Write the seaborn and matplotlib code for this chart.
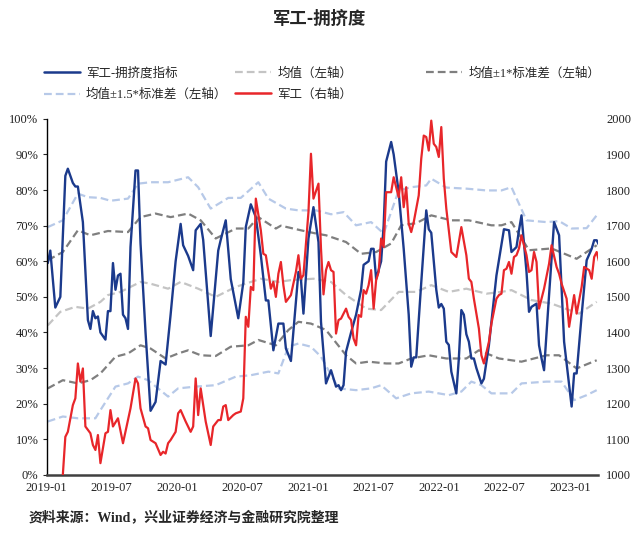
import numpy as np
import pandas as pd

import matplotlib
matplotlib.use('Agg')

from matplotlib import pyplot as plt
from matplotlib.lines import Line2D
import matplotlib.dates as mdates
import seaborn as sns

# ---- data (weeks counted from the first weekly observation) ----
start_date = pd.Timestamp('2019-01-04')

crowd_wk = [0, 1, 3, 5, 7, 8, 10, 11, 12, 14, 16, 17, 18, 19, 20, 21, 23, 24, 25, 26,
            27, 28, 29, 30, 31, 32, 33, 35, 36, 37, 39, 41, 43, 45, 47, 49, 51, 53, 54, 56,
            58, 59, 61, 62, 65, 66, 68, 69, 71, 73, 76, 78, 79, 81, 83, 85, 87, 88, 90, 92,
            94, 95, 97, 100, 101, 102, 104, 106, 108, 109, 111, 113, 115, 116, 117, 118, 119, 121, 123, 125,
            126, 128, 129, 130, 131, 133, 134, 135, 137, 138, 140, 142, 144, 145, 146, 147, 149, 151, 152, 153,
            155, 156, 157, 158, 159, 160, 161, 163, 164, 165, 166, 167, 168, 169, 170, 171, 173, 174, 176, 177,
            179, 180, 182, 184, 185, 187, 188, 189, 191, 192, 193, 195, 196, 197, 198, 200, 202, 204, 205, 206,
            209, 210, 211, 213, 215, 217, 218, 219, 220]
crowd_val = [59.5, 63, 47, 50, 84, 86, 82, 81, 81, 71, 43.5, 41, 46, 44, 44.5, 40, 38, 46, 46, 59.5,
             52, 56, 56.5, 45, 44, 41, 64, 85.5, 85.5, 65, 40, 18, 20.5, 32, 31, 45, 60, 70.5, 64.5, 61.5,
             57.5, 68.7, 70.5, 66, 39, 47, 63, 66, 71.5, 55, 44, 54, 69.6, 76, 72.4, 61.7, 49, 49, 35, 42.5,
             42.5, 35.5, 32, 57, 55, 45.3, 66.4, 75.2, 65.4, 43, 25.7, 29.4, 24.8, 25.2, 23.8, 25.2, 34.6, 40, 45, 52,
             59, 60, 63.5, 63.5, 55, 60, 70, 88, 93.5, 90, 79.4, 63.5, 45, 30.4, 33, 33, 54, 74.3, 69, 68,
             52, 47, 48, 46.7, 37.4, 36.5, 29, 22.9, 32.7, 46.3, 45, 39.5, 37.4, 32.7, 32.7, 30, 25.7, 27, 36.4, 43,
             56, 60.3, 69, 68.7, 62.6, 64, 68.7, 72.9, 57, 45.8, 47.2, 48.1, 36.4, 32.7, 29.4, 50.5, 71, 67.3, 52.3, 37.4,
             19.2, 28.5, 28.5, 44.9, 60.3, 63.5, 65.9, 65.9, 64.5]

index_wk = [6, 7, 8, 10, 11, 12, 13, 14, 15, 17, 18, 19, 20, 21, 23, 24, 25, 26, 28, 30,
            33, 35, 36, 37, 39, 40, 41, 43, 45, 46, 47, 48, 49, 51, 52, 53, 55, 57, 58, 59,
            60, 61, 63, 65, 66, 68, 69, 70, 71, 72, 74, 75, 77, 78, 79, 80, 81, 82, 83, 85,
            86, 87, 89, 90, 91, 92, 93, 94, 95, 97, 99, 100, 101, 102, 104, 105, 106, 108, 109, 110,
            111, 112, 113, 114, 115, 116, 117, 119, 120, 121, 122, 123, 124, 125, 126, 127, 128, 129, 130, 131,
            132, 133, 134, 135, 137, 138, 140, 141, 142, 143, 144, 145, 146, 148, 149, 150, 151, 152, 153, 154,
            155, 156, 157, 158, 159, 161, 163, 165, 167, 168, 169, 170, 172, 173, 174, 176, 177, 179, 180, 181,
            182, 183, 184, 185, 186, 187, 188, 189, 191, 192, 193, 194, 195, 196, 198, 200, 201, 203, 204, 205,
            207, 208, 210, 211, 213, 214, 216, 217, 218, 219, 220]
index_val = [1000, 1107, 1121, 1196, 1215, 1313, 1262, 1299, 1136, 1117, 1084, 1070, 1112, 1033, 1117, 1121, 1182, 1136, 1159, 1089,
             1187, 1271, 1257, 1187, 1136, 1131, 1098, 1089, 1056, 1065, 1060, 1089, 1098, 1121, 1173, 1182, 1150, 1121, 1136, 1271,
             1168, 1243, 1150, 1084, 1136, 1154, 1154, 1192, 1196, 1154, 1168, 1173, 1178, 1215, 1444, 1416, 1528, 1519, 1776, 1687,
             1621, 1617, 1523, 1542, 1500, 1565, 1598, 1533, 1486, 1505, 1570, 1617, 1551, 1561, 1738, 1902, 1776, 1818, 1636, 1507,
             1575, 1598, 1575, 1570, 1397, 1435, 1439, 1467, 1444, 1435, 1383, 1364, 1449, 1444, 1519, 1509, 1533, 1575, 1467, 1547,
             1570, 1664, 1640, 1794, 1794, 1836, 1780, 1836, 1752, 1808, 1706, 1682, 1710, 1785, 1888, 1953, 1949, 1911, 1995, 1930,
             1921, 1893, 1977, 1832, 1748, 1626, 1612, 1696, 1617, 1551, 1542, 1495, 1411, 1336, 1313, 1374, 1425, 1495, 1505, 1509,
             1575, 1579, 1598, 1565, 1612, 1617, 1636, 1673, 1617, 1570, 1575, 1626, 1598, 1467, 1523, 1593, 1645, 1584, 1565, 1537,
             1495, 1416, 1505, 1453, 1528, 1584, 1575, 1551, 1612, 1626, 1598]

mean_wk = [0, 5, 11, 16, 21, 24, 29, 37, 41, 48, 53, 60, 67, 75, 85, 92, 97, 106, 113, 119,
           127, 133, 140, 147, 153, 160, 167, 175, 181, 185, 193, 201, 212, 219]
mean_val = [42, 45.8, 47.2, 46.7, 48.6, 50.5, 51.4, 54.2, 53.7, 52.3, 54.2, 52.3, 50, 52.8, 55.1, 54.2, 54.7, 55.1, 54.2, 50.5,
            46.7, 46.3, 51.4, 51.4, 53.3, 51.4, 52.3, 50.9, 51.4, 51.9, 49.1, 48.1, 45.3, 48.6]

up1_wk = [0, 6, 12, 17, 24, 32, 37, 43, 49, 56, 61, 67, 75, 80, 84, 91, 93, 101, 107, 111,
          119, 125, 131, 137, 141, 147, 153, 161, 168, 177, 181, 185, 192, 201, 211, 219]
up1_val = [60.3, 62.6, 68.7, 67.3, 68.5, 68.2, 72.4, 73.4, 72.4, 73.4, 71.5, 66.4, 69.2, 69.2, 72.4, 69.2, 70, 68.7, 67.8, 67.3,
           65.4, 62.1, 62.6, 65, 70.1, 70.7, 72.9, 71.5, 71.5, 70.1, 70.1, 71, 63.1, 63.6, 60.7, 64.5]

dn1_wk = [0, 6, 12, 17, 21, 27, 32, 37, 41, 47, 52, 56, 61, 67, 73, 80, 84, 91, 96, 100,
          105, 111, 119, 123, 128, 135, 140, 145, 152, 159, 167, 172, 180, 189, 199, 204, 211, 219]
dn1_val = [24.3, 26.6, 25.7, 26.6, 28.5, 33.2, 34.1, 36.4, 35.5, 32.7, 34.1, 35, 33.6, 33.4, 36, 36.4, 37.9, 36.4, 40.7, 43,
           42.5, 40.7, 33.6, 31.3, 31.8, 31.3, 31.3, 32.7, 33.6, 32.7, 32.7, 35, 32.7, 31.8, 33.6, 33.6, 29.9, 32.2]

up15_wk = [0, 6, 12, 16, 21, 25, 32, 36, 41, 48, 56, 60, 65, 72, 77, 84, 88, 95, 100, 107,
           113, 118, 123, 129, 134, 140, 145, 151, 153, 159, 167, 175, 181, 185, 191, 199, 204, 209, 215, 219]
up15_val = [69.6, 71.5, 79, 78, 77.8, 77, 77.6, 81.8, 82.2, 82.2, 83.6, 80.8, 74.8, 77.8, 77.8, 82.2, 77.6, 74.8, 74.3, 74.3,
            73.2, 73.8, 70.1, 71, 67.8, 79.9, 80.8, 81.3, 83.2, 80.7, 80.4, 79.9, 79.9, 80.8, 71.5, 71, 71.3, 69.2, 69.3, 72.9]

dn15_wk = [0, 6, 12, 19, 21, 27, 32, 36, 40, 48, 52, 59, 67, 75, 81, 88, 92, 96, 100, 105,
           109, 116, 123, 129, 133, 139, 145, 152, 160, 165, 169, 173, 177, 185, 189, 199, 205, 210, 215, 219]
dn15_val = [15, 16.4, 15.9, 15.9, 18.2, 24.8, 25.7, 27.6, 26.6, 22, 24.3, 24.8, 25.2, 27.6, 28, 29, 28.5, 36, 36.9, 36,
            33.2, 24.3, 23.8, 24.3, 25.2, 21.5, 22.9, 23.4, 22.4, 23.4, 26.2, 25.2, 22.9, 22.9, 25.7, 26.2, 26.2, 21, 22.4, 23.8]

x_ticks = ['2019-01', '2019-07', '2020-01', '2020-07', '2021-01', '2021-07', '2022-01', '2022-07', '2023-01']


def to_frame(weeks, values):
    dates = start_date + pd.to_timedelta(np.array(weeks) * 7, unit='D')
    return pd.DataFrame({'date': dates, 'value': values})


sns.set_style('white')
plt.rcParams['font.family'] = ['Liberation Serif', 'Noto Sans CJK SC', 'DejaVu Sans']
plt.rcParams['axes.unicode_minus'] = False
cjk = ['Noto Sans CJK SC', 'DejaVu Sans']

fig = plt.figure(figsize=(6.4, 5.33), dpi=100)
ax = fig.add_axes([0.073, 0.109, 0.861, 0.668])
ax2 = ax.twinx()

c_blue = '#1b3a8c'
c_red = '#e8262a'
c_mean = '#c4c4c4'
c_std1 = '#7f7f7f'
c_std15 = '#b7c9e8'
dash = (3.5, 1.8)

band_specs = [
    (up15_wk, up15_val, c_std15), (dn15_wk, dn15_val, c_std15),
    (up1_wk, up1_val, c_std1), (dn1_wk, dn1_val, c_std1),
    (mean_wk, mean_val, c_mean),
]
for wk, val, col in band_specs:
    df = to_frame(wk, val)
    sns.lineplot(data=df, x='date', y='value', ax=ax, color=col, linewidth=1.6)
    ax.lines[-1].set_dashes(dash)

sns.lineplot(data=to_frame(crowd_wk, crowd_val), x='date', y='value', ax=ax,
             color=c_blue, linewidth=1.7)
sns.lineplot(data=to_frame(index_wk, index_val), x='date', y='value', ax=ax2,
             color=c_red, linewidth=1.6)

# axes limits / ticks
xmin, xmax = pd.Timestamp('2019-01-01'), pd.Timestamp('2023-03-20')
ax.set_xlim(xmin, xmax)
ax.set_ylim(0, 100)
ax2.set_ylim(1000, 2000)
ax.set_xticks([pd.Timestamp(t + '-01') for t in x_ticks])
ax.xaxis.set_major_formatter(mdates.DateFormatter('%Y-%m'))
ax.set_yticks(np.arange(0, 101, 10))
ax.set_yticklabels(['%d%%' % v for v in range(0, 101, 10)])
ax2.set_yticks(np.arange(1000, 2001, 100))

ax.set_xlabel('')
ax.set_ylabel('')
ax2.set_xlabel('')
ax2.set_ylabel('')

for a in (ax, ax2):
    for s in a.spines.values():
        s.set_visible(False)
ax.spines['left'].set_visible(True)
ax.spines['left'].set_color('#000000')
ax.spines['left'].set_linewidth(1.0)
ax.spines['bottom'].set_visible(True)
ax.spines['bottom'].set_color('#404040')
ax.spines['bottom'].set_linewidth(1.8)

ax.tick_params(axis='x', direction='in', length=4, width=1, color='#404040',
               labelsize=9, pad=5, labelcolor='#222222')
ax.tick_params(axis='y', direction='out', length=3, width=0.8, labelsize=9,
               pad=3, labelcolor='#222222', left=True)
ax2.tick_params(axis='y', length=0, labelsize=9, pad=6, labelcolor='#222222')


# legend: two groups to mimic the original layout
def h(col, ls='-', lw=1.8):
    ln = Line2D([0], [0], color=col, linewidth=lw)
    if ls == '--':
        ln.set_dashes(dash)
    return ln


leg_font = {'family': ['Liberation Serif', 'Noto Sans CJK SC'], 'size': 9}
hA, lA = h(c_blue), '军工-拥挤度指标'
hB, lB = h(c_mean, '--', 1.6), '均值（左轴）'
hC, lC = h(c_std1, '--', 1.6), '均值±1*标准差（左轴）'
hD, lD = h(c_std15, '--', 1.6), '均值±1.5*标准差（左轴）'
hE, lE = h(c_red), '军工（右轴）'

fig.legend([hA, hD, hB, hE], [lA, lD, lB, lE], ncol=2, loc='upper left',
           bbox_to_anchor=(0.068, 0.874), frameon=False, prop=leg_font,
           handlelength=2.9, handletextpad=0.5, columnspacing=0.6, labelspacing=0.72,
           borderaxespad=0, borderpad=0)
fig.legend([hC], [lC], loc='upper left', bbox_to_anchor=(0.665, 0.874),
           frameon=False, prop=leg_font, handlelength=2.9, handletextpad=0.5,
           borderaxespad=0, borderpad=0)

fig.text(0.5, 0.965, '军工-拥挤度', ha='center', va='center', fontsize=12.5,
         fontweight='bold', family=cjk)
fig.text(0.045, 0.03, '资料来源：Wind，兴业证券经济与金融研究院整理', ha='left', va='center',
         fontsize=10, fontweight='bold', family=['Liberation Serif', 'Noto Sans CJK SC'])

fig.savefig('out.png', dpi=100)
plt.close(fig)
